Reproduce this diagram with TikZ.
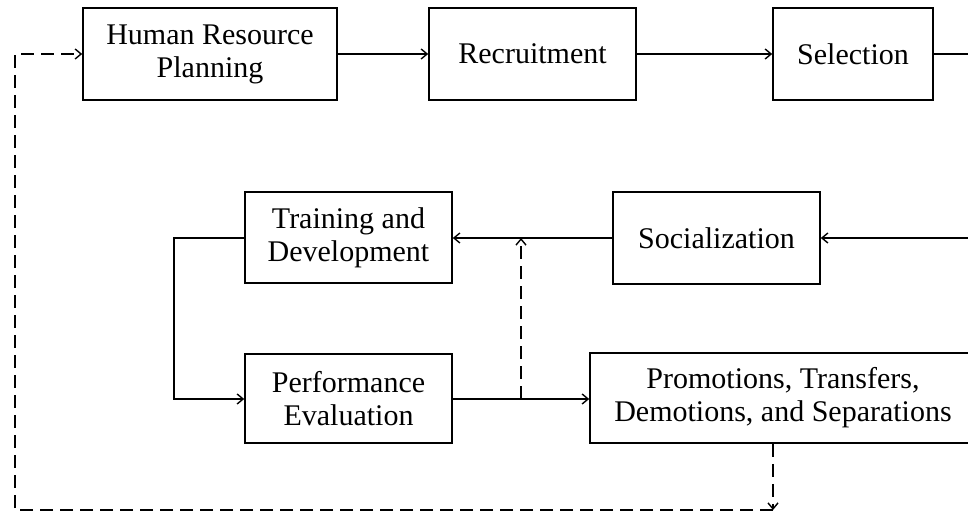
\documentclass[tikz,border=0pt]{standalone}
\usepackage{fontspec}
\setmainfont{Liberation Serif}
\usetikzlibrary{arrows.meta}
\begin{document}
\begin{tikzpicture}[x=0.5pt,y=-0.5pt,
  box/.style={draw,line width=0.8pt,inner sep=0pt,align=center,minimum height=46pt,
    font=\fontsize{15}{16.5}\selectfont},
  conn/.style={line width=0.7pt,-{Straight Barb[length=3pt,width=5pt]}},
  plain/.style={line width=0.7pt},
  dashconn/.style={conn,dash pattern=on 6.5pt off 3.5pt},
  dashplain/.style={plain,dash pattern=on 6.5pt off 3.5pt}]
\useasboundingbox (0,0) rectangle (968,512);
\node[box,minimum width=127pt] (hrp) at (210,54) {Human Resource\\Planning};
\node[box,minimum width=103.5pt] (rec) at (532.5,54) {Recruitment};
\node[box,minimum width=80pt] (sel) at (853,54) {Selection};
\node[box,minimum width=103.5pt,minimum height=45.5pt] (td) at (348.5,237.5) {Training and\\Development};
\node[box,minimum width=103.5pt] (soc) at (716.5,238) {Socialization};
\node[box,minimum width=103.5pt,minimum height=44.5pt] (pe) at (348.5,398.5) {Performance\\Evaluation};
\node[box,minimum width=193pt,minimum height=45pt] (prom) at (783,398) {Promotions, Transfers,\\Demotions, and Separations};
\coordinate (selR) at (968,54);
\coordinate (socR) at (968,238);
\coordinate (loopL) at (174,238);
\coordinate (j) at (521,399);
\coordinate (b) at (773,510);
\coordinate (c) at (15,510);
\draw[conn] (hrp.east) -- (rec.west);
\draw[conn] (rec.east) -- (sel.west);
\draw[plain] (sel.east) -- (selR);
\draw[conn] (socR) -- (soc.east);
\draw[conn] (soc.west) -- (td.east |- soc.west);
\draw[conn] (td.west |- loopL) -- (loopL) |- (pe.west |- j);
\draw[conn] (pe.east |- j) -- (prom.west |- j);
\draw[dashconn] (j) -- (j |- soc.west);
\draw[dashconn] (prom.south -| b) -- (b);
\draw[dashconn] (b) -- (c) |- (hrp.west);
\end{tikzpicture}
\end{document}
